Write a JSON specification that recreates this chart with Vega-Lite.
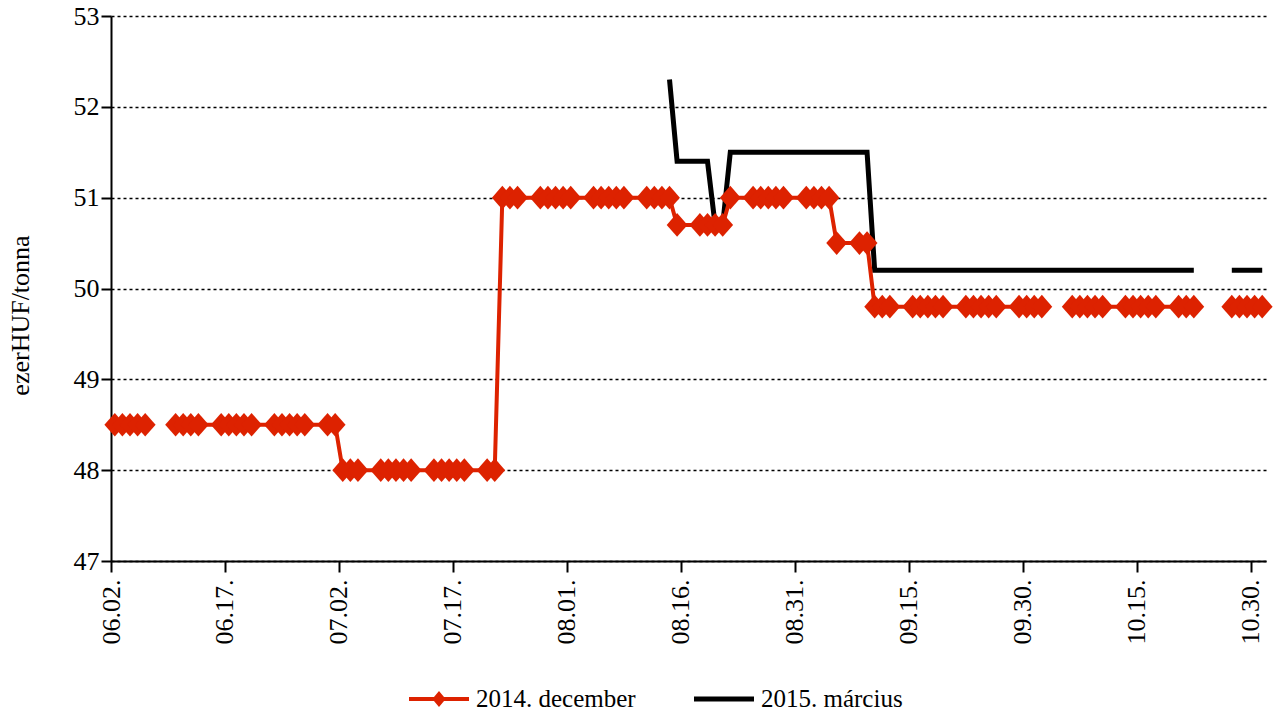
{
  "$schema": "https://vega.github.io/schema/vega-lite/v6.json",
  "width": 1155,
  "height": 545,
  "autosize": "none",
  "padding": {"left": 111, "top": 16, "right": 18, "bottom": 151},
  "background": "white",
  "config": {
    "font": "Liberation Serif",
    "view": {"stroke": null},
    "axis": {"labelFont": "Liberation Serif", "titleFont": "Liberation Serif"},
    "legend": {"labelFont": "Liberation Serif"}
  },
  "data": {
    "values": [
      {"d": "2014-06-02T12:00", "s": "2014. december", "v": 48.5},
      {"d": "2014-06-03T12:00", "s": "2014. december", "v": 48.5},
      {"d": "2014-06-04T12:00", "s": "2014. december", "v": 48.5},
      {"d": "2014-06-05T12:00", "s": "2014. december", "v": 48.5},
      {"d": "2014-06-06T12:00", "s": "2014. december", "v": 48.5},
      {"d": "2014-06-09T12:00", "s": "2014. december", "v": null},
      {"d": "2014-06-10T12:00", "s": "2014. december", "v": 48.5},
      {"d": "2014-06-11T12:00", "s": "2014. december", "v": 48.5},
      {"d": "2014-06-12T12:00", "s": "2014. december", "v": 48.5},
      {"d": "2014-06-13T12:00", "s": "2014. december", "v": 48.5},
      {"d": "2014-06-16T12:00", "s": "2014. december", "v": 48.5},
      {"d": "2014-06-17T12:00", "s": "2014. december", "v": 48.5},
      {"d": "2014-06-18T12:00", "s": "2014. december", "v": 48.5},
      {"d": "2014-06-19T12:00", "s": "2014. december", "v": 48.5},
      {"d": "2014-06-20T12:00", "s": "2014. december", "v": 48.5},
      {"d": "2014-06-23T12:00", "s": "2014. december", "v": 48.5},
      {"d": "2014-06-24T12:00", "s": "2014. december", "v": 48.5},
      {"d": "2014-06-25T12:00", "s": "2014. december", "v": 48.5},
      {"d": "2014-06-26T12:00", "s": "2014. december", "v": 48.5},
      {"d": "2014-06-27T12:00", "s": "2014. december", "v": 48.5},
      {"d": "2014-06-30T12:00", "s": "2014. december", "v": 48.5},
      {"d": "2014-07-01T12:00", "s": "2014. december", "v": 48.5},
      {"d": "2014-07-02T12:00", "s": "2014. december", "v": 48},
      {"d": "2014-07-03T12:00", "s": "2014. december", "v": 48},
      {"d": "2014-07-04T12:00", "s": "2014. december", "v": 48},
      {"d": "2014-07-07T12:00", "s": "2014. december", "v": 48},
      {"d": "2014-07-08T12:00", "s": "2014. december", "v": 48},
      {"d": "2014-07-09T12:00", "s": "2014. december", "v": 48},
      {"d": "2014-07-10T12:00", "s": "2014. december", "v": 48},
      {"d": "2014-07-11T12:00", "s": "2014. december", "v": 48},
      {"d": "2014-07-14T12:00", "s": "2014. december", "v": 48},
      {"d": "2014-07-15T12:00", "s": "2014. december", "v": 48},
      {"d": "2014-07-16T12:00", "s": "2014. december", "v": 48},
      {"d": "2014-07-17T12:00", "s": "2014. december", "v": 48},
      {"d": "2014-07-18T12:00", "s": "2014. december", "v": 48},
      {"d": "2014-07-21T12:00", "s": "2014. december", "v": 48},
      {"d": "2014-07-22T12:00", "s": "2014. december", "v": 48},
      {"d": "2014-07-23T12:00", "s": "2014. december", "v": 51},
      {"d": "2014-07-24T12:00", "s": "2014. december", "v": 51},
      {"d": "2014-07-25T12:00", "s": "2014. december", "v": 51},
      {"d": "2014-07-28T12:00", "s": "2014. december", "v": 51},
      {"d": "2014-07-29T12:00", "s": "2014. december", "v": 51},
      {"d": "2014-07-30T12:00", "s": "2014. december", "v": 51},
      {"d": "2014-07-31T12:00", "s": "2014. december", "v": 51},
      {"d": "2014-08-01T12:00", "s": "2014. december", "v": 51},
      {"d": "2014-08-04T12:00", "s": "2014. december", "v": 51},
      {"d": "2014-08-05T12:00", "s": "2014. december", "v": 51},
      {"d": "2014-08-06T12:00", "s": "2014. december", "v": 51},
      {"d": "2014-08-07T12:00", "s": "2014. december", "v": 51},
      {"d": "2014-08-08T12:00", "s": "2014. december", "v": 51},
      {"d": "2014-08-11T12:00", "s": "2014. december", "v": 51},
      {"d": "2014-08-12T12:00", "s": "2014. december", "v": 51},
      {"d": "2014-08-13T12:00", "s": "2014. december", "v": 51},
      {"d": "2014-08-14T12:00", "s": "2014. december", "v": 51},
      {"d": "2014-08-15T12:00", "s": "2014. december", "v": 50.7},
      {"d": "2014-08-18T12:00", "s": "2014. december", "v": 50.7},
      {"d": "2014-08-19T12:00", "s": "2014. december", "v": 50.7},
      {"d": "2014-08-20T12:00", "s": "2014. december", "v": 50.7},
      {"d": "2014-08-21T12:00", "s": "2014. december", "v": 50.7},
      {"d": "2014-08-22T12:00", "s": "2014. december", "v": 51},
      {"d": "2014-08-25T12:00", "s": "2014. december", "v": 51},
      {"d": "2014-08-26T12:00", "s": "2014. december", "v": 51},
      {"d": "2014-08-27T12:00", "s": "2014. december", "v": 51},
      {"d": "2014-08-28T12:00", "s": "2014. december", "v": 51},
      {"d": "2014-08-29T12:00", "s": "2014. december", "v": 51},
      {"d": "2014-09-01T12:00", "s": "2014. december", "v": 51},
      {"d": "2014-09-02T12:00", "s": "2014. december", "v": 51},
      {"d": "2014-09-03T12:00", "s": "2014. december", "v": 51},
      {"d": "2014-09-04T12:00", "s": "2014. december", "v": 51},
      {"d": "2014-09-05T12:00", "s": "2014. december", "v": 50.5},
      {"d": "2014-09-08T12:00", "s": "2014. december", "v": 50.5},
      {"d": "2014-09-09T12:00", "s": "2014. december", "v": 50.5},
      {"d": "2014-09-10T12:00", "s": "2014. december", "v": 49.8},
      {"d": "2014-09-11T12:00", "s": "2014. december", "v": 49.8},
      {"d": "2014-09-12T12:00", "s": "2014. december", "v": 49.8},
      {"d": "2014-09-15T12:00", "s": "2014. december", "v": 49.8},
      {"d": "2014-09-16T12:00", "s": "2014. december", "v": 49.8},
      {"d": "2014-09-17T12:00", "s": "2014. december", "v": 49.8},
      {"d": "2014-09-18T12:00", "s": "2014. december", "v": 49.8},
      {"d": "2014-09-19T12:00", "s": "2014. december", "v": 49.8},
      {"d": "2014-09-22T12:00", "s": "2014. december", "v": 49.8},
      {"d": "2014-09-23T12:00", "s": "2014. december", "v": 49.8},
      {"d": "2014-09-24T12:00", "s": "2014. december", "v": 49.8},
      {"d": "2014-09-25T12:00", "s": "2014. december", "v": 49.8},
      {"d": "2014-09-26T12:00", "s": "2014. december", "v": 49.8},
      {"d": "2014-09-29T12:00", "s": "2014. december", "v": 49.8},
      {"d": "2014-09-30T12:00", "s": "2014. december", "v": 49.8},
      {"d": "2014-10-01T12:00", "s": "2014. december", "v": 49.8},
      {"d": "2014-10-02T12:00", "s": "2014. december", "v": 49.8},
      {"d": "2014-10-03T12:00", "s": "2014. december", "v": null},
      {"d": "2014-10-06T12:00", "s": "2014. december", "v": 49.8},
      {"d": "2014-10-07T12:00", "s": "2014. december", "v": 49.8},
      {"d": "2014-10-08T12:00", "s": "2014. december", "v": 49.8},
      {"d": "2014-10-09T12:00", "s": "2014. december", "v": 49.8},
      {"d": "2014-10-10T12:00", "s": "2014. december", "v": 49.8},
      {"d": "2014-10-13T12:00", "s": "2014. december", "v": 49.8},
      {"d": "2014-10-14T12:00", "s": "2014. december", "v": 49.8},
      {"d": "2014-10-15T12:00", "s": "2014. december", "v": 49.8},
      {"d": "2014-10-16T12:00", "s": "2014. december", "v": 49.8},
      {"d": "2014-10-17T12:00", "s": "2014. december", "v": 49.8},
      {"d": "2014-10-20T12:00", "s": "2014. december", "v": 49.8},
      {"d": "2014-10-21T12:00", "s": "2014. december", "v": 49.8},
      {"d": "2014-10-22T12:00", "s": "2014. december", "v": 49.8},
      {"d": "2014-10-23T12:00", "s": "2014. december", "v": null},
      {"d": "2014-10-24T12:00", "s": "2014. december", "v": null},
      {"d": "2014-10-27T12:00", "s": "2014. december", "v": 49.8},
      {"d": "2014-10-28T12:00", "s": "2014. december", "v": 49.8},
      {"d": "2014-10-29T12:00", "s": "2014. december", "v": 49.8},
      {"d": "2014-10-30T12:00", "s": "2014. december", "v": 49.8},
      {"d": "2014-10-31T12:00", "s": "2014. december", "v": 49.8},
      {"d": "2014-08-14T12:00", "s": "2015. március", "v": 52.3},
      {"d": "2014-08-15T12:00", "s": "2015. március", "v": 51.4},
      {"d": "2014-08-18T12:00", "s": "2015. március", "v": 51.4},
      {"d": "2014-08-19T12:00", "s": "2015. március", "v": 51.4},
      {"d": "2014-08-20T12:00", "s": "2015. március", "v": 50.7},
      {"d": "2014-08-21T12:00", "s": "2015. március", "v": 50.7},
      {"d": "2014-08-22T12:00", "s": "2015. március", "v": 51.5},
      {"d": "2014-08-25T12:00", "s": "2015. március", "v": 51.5},
      {"d": "2014-08-26T12:00", "s": "2015. március", "v": 51.5},
      {"d": "2014-08-27T12:00", "s": "2015. március", "v": 51.5},
      {"d": "2014-08-28T12:00", "s": "2015. március", "v": 51.5},
      {"d": "2014-08-29T12:00", "s": "2015. március", "v": 51.5},
      {"d": "2014-09-01T12:00", "s": "2015. március", "v": 51.5},
      {"d": "2014-09-02T12:00", "s": "2015. március", "v": 51.5},
      {"d": "2014-09-03T12:00", "s": "2015. március", "v": 51.5},
      {"d": "2014-09-04T12:00", "s": "2015. március", "v": 51.5},
      {"d": "2014-09-05T12:00", "s": "2015. március", "v": 51.5},
      {"d": "2014-09-08T12:00", "s": "2015. március", "v": 51.5},
      {"d": "2014-09-09T12:00", "s": "2015. március", "v": 51.5},
      {"d": "2014-09-10T12:00", "s": "2015. március", "v": 50.2},
      {"d": "2014-09-11T12:00", "s": "2015. március", "v": 50.2},
      {"d": "2014-09-12T12:00", "s": "2015. március", "v": 50.2},
      {"d": "2014-09-15T12:00", "s": "2015. március", "v": 50.2},
      {"d": "2014-09-16T12:00", "s": "2015. március", "v": 50.2},
      {"d": "2014-09-17T12:00", "s": "2015. március", "v": 50.2},
      {"d": "2014-09-18T12:00", "s": "2015. március", "v": 50.2},
      {"d": "2014-09-19T12:00", "s": "2015. március", "v": 50.2},
      {"d": "2014-09-22T12:00", "s": "2015. március", "v": 50.2},
      {"d": "2014-09-23T12:00", "s": "2015. március", "v": 50.2},
      {"d": "2014-09-24T12:00", "s": "2015. március", "v": 50.2},
      {"d": "2014-09-25T12:00", "s": "2015. március", "v": 50.2},
      {"d": "2014-09-26T12:00", "s": "2015. március", "v": 50.2},
      {"d": "2014-09-29T12:00", "s": "2015. március", "v": 50.2},
      {"d": "2014-09-30T12:00", "s": "2015. március", "v": 50.2},
      {"d": "2014-10-01T12:00", "s": "2015. március", "v": 50.2},
      {"d": "2014-10-02T12:00", "s": "2015. március", "v": 50.2},
      {"d": "2014-10-03T12:00", "s": "2015. március", "v": 50.2},
      {"d": "2014-10-06T12:00", "s": "2015. március", "v": 50.2},
      {"d": "2014-10-07T12:00", "s": "2015. március", "v": 50.2},
      {"d": "2014-10-08T12:00", "s": "2015. március", "v": 50.2},
      {"d": "2014-10-09T12:00", "s": "2015. március", "v": 50.2},
      {"d": "2014-10-10T12:00", "s": "2015. március", "v": 50.2},
      {"d": "2014-10-13T12:00", "s": "2015. március", "v": 50.2},
      {"d": "2014-10-14T12:00", "s": "2015. március", "v": 50.2},
      {"d": "2014-10-15T12:00", "s": "2015. március", "v": 50.2},
      {"d": "2014-10-16T12:00", "s": "2015. március", "v": 50.2},
      {"d": "2014-10-17T12:00", "s": "2015. március", "v": 50.2},
      {"d": "2014-10-20T12:00", "s": "2015. március", "v": 50.2},
      {"d": "2014-10-21T12:00", "s": "2015. március", "v": 50.2},
      {"d": "2014-10-22T12:00", "s": "2015. március", "v": 50.2},
      {"d": "2014-10-23T12:00", "s": "2015. március", "v": null},
      {"d": "2014-10-24T12:00", "s": "2015. március", "v": null},
      {"d": "2014-10-27T12:00", "s": "2015. március", "v": 50.2},
      {"d": "2014-10-28T12:00", "s": "2015. március", "v": 50.2},
      {"d": "2014-10-29T12:00", "s": "2015. március", "v": 50.2},
      {"d": "2014-10-30T12:00", "s": "2015. március", "v": 50.2},
      {"d": "2014-10-31T12:00", "s": "2015. március", "v": 50.2}
    ]
  },
  "encoding": {
    "x": {
      "field": "d",
      "type": "temporal",
      "scale": {
        "domain": [
          {"year": 2014, "month": 6, "date": 2},
          {"year": 2014, "month": 11, "date": 1}
        ]
      },
      "axis": {
        "title": null,
        "values": [
          {"year": 2014, "month": 6, "date": 2},
          {"year": 2014, "month": 6, "date": 17},
          {"year": 2014, "month": 7, "date": 2},
          {"year": 2014, "month": 7, "date": 17},
          {"year": 2014, "month": 8, "date": 1},
          {"year": 2014, "month": 8, "date": 16},
          {"year": 2014, "month": 8, "date": 31},
          {"year": 2014, "month": 9, "date": 15},
          {"year": 2014, "month": 9, "date": 30},
          {"year": 2014, "month": 10, "date": 15},
          {"year": 2014, "month": 10, "date": 30}
        ],
        "format": "%m.%d.",
        "labelAngle": -90,
        "labelFont": "Liberation Serif",
        "labelFontSize": 26,
        "labelColor": "black",
        "labelPadding": 7,
        "labelFlush": false,
        "labelOverlap": false,
        "grid": false,
        "tickSize": 11,
        "tickWidth": 2,
        "tickColor": "black",
        "domainColor": "black",
        "domainWidth": 2
      }
    },
    "y": {
      "field": "v",
      "type": "quantitative",
      "scale": {"domain": [47, 53], "nice": false, "zero": false},
      "axis": {
        "title": "ezerHUF/tonna",
        "titleFont": "Liberation Serif",
        "titleFontSize": 26,
        "titleFontWeight": "normal",
        "titleColor": "black",
        "titlePadding": 40,
        "titleY": 299,
        "values": [47, 48, 49, 50, 51, 52, 53],
        "labelFont": "Liberation Serif",
        "labelFontSize": 26,
        "labelColor": "black",
        "labelPadding": 2,
        "grid": true,
        "gridColor": "black",
        "gridDash": [3, 3],
        "gridWidth": 1.5,
        "tickSize": 10,
        "tickWidth": 2,
        "tickColor": "black",
        "domainColor": "black",
        "domainWidth": 2
      }
    }
  },
  "layer": [
    {
      "transform": [{"filter": "datum.s == '2015. március'"}],
      "mark": {"type": "line", "strokeWidth": 5, "invalid": "break-paths-filter-domains"},
      "encoding": {
        "color": {
          "field": "s",
          "type": "nominal",
          "scale": {"domain": ["2014. december", "2015. március"], "range": ["#DD2200", "#000000"]},
          "legend": {
            "orient": "none",
            "legendX": 298,
            "legendY": 653,
            "direction": "horizontal",
            "title": null,
            "symbolType": "M-1,-0.08L1,-0.08L1,0.08L-1,0.08Z",
            "symbolSize": 3600,
            "symbolStrokeWidth": 0,
            "labelFont": "Liberation Serif",
            "labelFontSize": 25,
            "labelColor": "black",
            "labelOffset": 7,
            "columnPadding": 58,
            "encode": {
              "symbols": {
                "update": {
                  "shape": {"signal": "datum.value === '2014. december' ? 'M-1,-0.067L-0.167,-0.067L0,-0.267L0.167,-0.067L1,-0.067L1,0.067L0.167,0.067L0,0.267L-0.167,0.067L-1,0.067Z' : 'M-1,-0.083L1,-0.083L1,0.083L-1,0.083Z'"},
                  "fill": {"signal": "datum.value === '2014. december' ? '#DD2200' : '#000000'"},
                  "strokeWidth": {"value": 0},
                  "opacity": {"value": 1}
                }
              }
            }
          }
        }
      }
    },
    {
      "transform": [{"filter": "datum.s == '2014. december'"}],
      "mark": {"type": "line", "strokeWidth": 4, "invalid": "break-paths-filter-domains"},
      "encoding": {
        "color": {
          "field": "s",
          "type": "nominal",
          "scale": {"domain": ["2014. december", "2015. március"], "range": ["#DD2200", "#000000"]}
        }
      }
    },
    {
      "transform": [{"filter": "datum.s == '2014. december' && isValid(datum.v)"}],
      "mark": {"type": "point", "filled": true, "shape": "M-0.88,0L0,-1L0.88,0L0,1Z", "size": 560, "opacity": 1, "color": "#DD2200", "strokeWidth": 0}
    }
  ]
}
